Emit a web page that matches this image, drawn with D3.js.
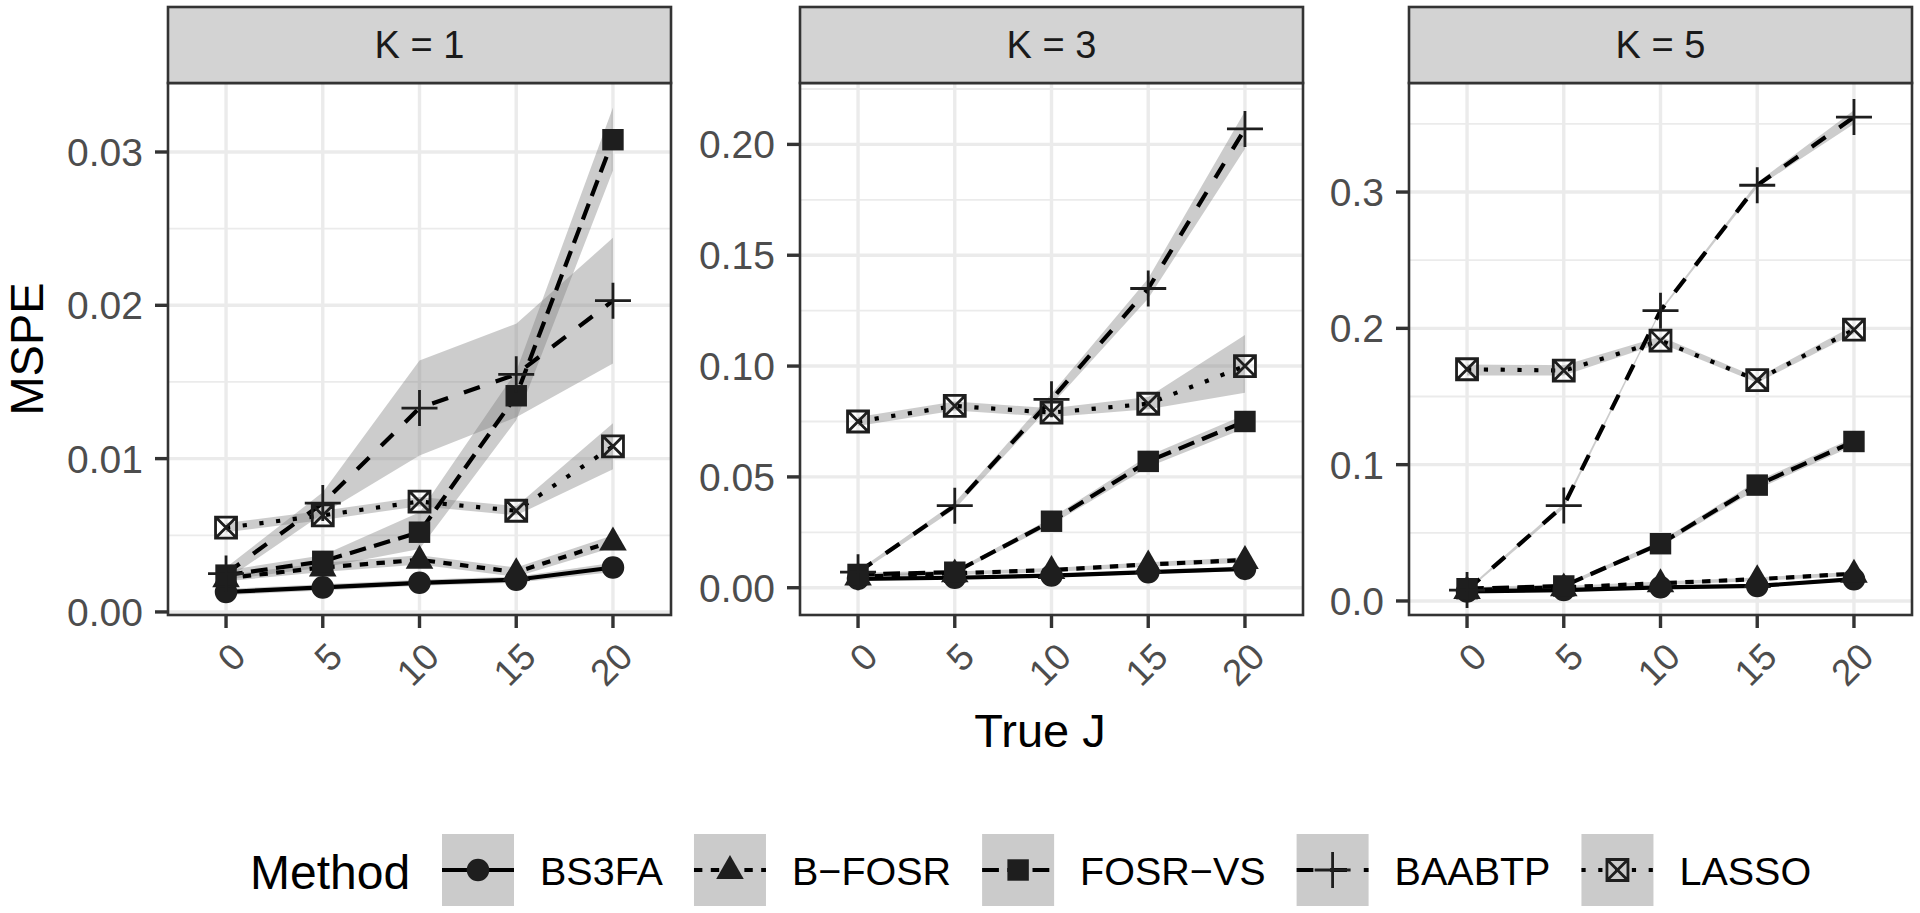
<!DOCTYPE html>
<html>
<head>
<meta charset="utf-8">
<script src="https://cdn.jsdelivr.net/npm/d3@7"></script>
<style>
  html, body { margin: 0; padding: 0; background: #fff; }
  svg { display: block; font-family: "Liberation Sans", Arial, sans-serif; }
</style>
</head>
<body>
<svg id="chart" width="1920" height="913"></svg>
<script>
// ---------------- DATA ----------------
const methods = ["BS3FA", "B-FOSR", "FOSR-VS", "BAABTP", "LASSO"];
const legendLabels = ["BS3FA", "B\u2212FOSR", "FOSR\u2212VS", "BAABTP", "LASSO"];
const trueJ = ["0", "5", "10", "15", "20"];
const panelTitles = ["K = 1", "K = 3", "K = 5"];

// rows follow `methods`, columns follow `trueJ`
const K1_mspe = [
  [0.0013, 0.0016, 0.0019, 0.0021, 0.0029],
  [0.0022, 0.0029, 0.0034, 0.0026, 0.0046],
  [0.0024, 0.0033, 0.0052, 0.0141, 0.0308],
  [0.0025, 0.0071, 0.0133, 0.0155, 0.0203],
  [0.0055, 0.0063, 0.0072, 0.0066, 0.0108]
];
const K1_lower = [
  [0.0011, 0.0014, 0.0017, 0.0019, 0.0026],
  [0.0020, 0.0026, 0.0031, 0.0023, 0.0042],
  [0.0021, 0.0029, 0.0041, 0.0125, 0.0288],
  [0.0021, 0.0064, 0.0102, 0.0127, 0.0162],
  [0.0052, 0.0060, 0.0069, 0.0063, 0.0093]
];
const K1_upper = [
  [0.0015, 0.0018, 0.0021, 0.0023, 0.0032],
  [0.0024, 0.0032, 0.0037, 0.0029, 0.0050],
  [0.0027, 0.0037, 0.0065, 0.0157, 0.0329],
  [0.0029, 0.0078, 0.0164, 0.0188, 0.0244],
  [0.0058, 0.0066, 0.0075, 0.0069, 0.0123]
];

const K3_mspe = [
  [0.0040, 0.0045, 0.0055, 0.0070, 0.0085],
  [0.0050, 0.0065, 0.0080, 0.0105, 0.0125],
  [0.0060, 0.0070, 0.0300, 0.0570, 0.0750],
  [0.0070, 0.0370, 0.0850, 0.1350, 0.2070],
  [0.0750, 0.0820, 0.0790, 0.0830, 0.1000]
];
const K3_lower = [
  [0.0033, 0.0038, 0.0047, 0.0062, 0.0076],
  [0.0043, 0.0057, 0.0071, 0.0095, 0.0113],
  [0.0052, 0.0062, 0.0285, 0.0545, 0.0720],
  [0.0062, 0.0355, 0.0825, 0.1305, 0.1980],
  [0.0730, 0.0800, 0.0770, 0.0805, 0.0880]
];
const K3_upper = [
  [0.0047, 0.0052, 0.0063, 0.0078, 0.0094],
  [0.0057, 0.0073, 0.0089, 0.0115, 0.0137],
  [0.0068, 0.0078, 0.0315, 0.0595, 0.0780],
  [0.0078, 0.0385, 0.0875, 0.1395, 0.2150],
  [0.0770, 0.0840, 0.0810, 0.0860, 0.1140]
];

const K5_mspe = [
  [0.0070, 0.0080, 0.0100, 0.0110, 0.0160],
  [0.0080, 0.0100, 0.0130, 0.0160, 0.0200],
  [0.0090, 0.0110, 0.0420, 0.0850, 0.1170],
  [0.0080, 0.0700, 0.2130, 0.3050, 0.3550],
  [0.1700, 0.1690, 0.1910, 0.1620, 0.1990]
];
const K5_lower = [
  [0.0062, 0.0072, 0.0090, 0.0100, 0.0148],
  [0.0072, 0.0090, 0.0118, 0.0147, 0.0185],
  [0.0080, 0.0098, 0.0400, 0.0820, 0.1140],
  [0.0072, 0.0680, 0.2120, 0.3035, 0.3500],
  [0.1655, 0.1655, 0.1890, 0.1600, 0.1960]
];
const K5_upper = [
  [0.0078, 0.0088, 0.0110, 0.0120, 0.0172],
  [0.0088, 0.0110, 0.0142, 0.0173, 0.0215],
  [0.0100, 0.0122, 0.0440, 0.0880, 0.1200],
  [0.0088, 0.0715, 0.2140, 0.3070, 0.3600],
  [0.1735, 0.1730, 0.1940, 0.1640, 0.2020]
];

const K1_yTicks = [0.00, 0.01, 0.02, 0.03];
const K3_yTicks = [0.00, 0.05, 0.10, 0.15, 0.20];
const K5_yTicks = [0.0, 0.1, 0.2, 0.3];
const K1_yDomain = [-0.0002, 0.0345];
const K3_yDomain = [-0.0123, 0.2277];
const K5_yDomain = [-0.0103, 0.3800];

// ---------------- STYLE / LAYOUT ----------------
const LW = 4.2;
const dashUnits = ["", "2,2", "4,2", "4,4", "1,3"]; // ggplot linetypes solid,22,42,44,13
const dashFor = i => dashUnits[i] ? dashUnits[i].split(",").map(v => +v * LW).join(",") : null;
const markerColor = "#1e1e1e";
const ribbonFill = "#808080";
const ribbonOpacity = 0.4;

const panelLefts = [168, 800, 1409];
const panelW = 503;
const panelTop = 83, panelBottom = 615;
const stripTop = 7;

const panels = [
  { title: panelTitles[0], mspe: K1_mspe, lo: K1_lower, hi: K1_upper, ticks: K1_yTicks, domain: K1_yDomain, fmt: d3.format(".2f") },
  { title: panelTitles[1], mspe: K3_mspe, lo: K3_lower, hi: K3_upper, ticks: K3_yTicks, domain: K3_yDomain, fmt: d3.format(".2f") },
  { title: panelTitles[2], mspe: K5_mspe, lo: K5_lower, hi: K5_upper, ticks: K5_yTicks, domain: K5_yDomain, fmt: d3.format(".1f") }
];

const svg = d3.select("#chart");

function drawMarker(g, shapeIdx, x, y) {
  if (shapeIdx === 0) {
    g.append("path").attr("d", d3.symbol(d3.symbolCircle, 400)()).attr("transform", `translate(${x},${y})`).attr("fill", markerColor);
  } else if (shapeIdx === 1) {
    g.append("path").attr("d", d3.symbol(d3.symbolTriangle, 330)()).attr("transform", `translate(${x},${y + 1})`).attr("fill", markerColor);
  } else if (shapeIdx === 2) {
    g.append("path").attr("d", d3.symbol(d3.symbolSquare, 460)()).attr("transform", `translate(${x},${y})`).attr("fill", markerColor);
  } else if (shapeIdx === 3) {
    const a = 18;
    g.append("path").attr("d", `M${x - a},${y}H${x + a}M${x},${y - a}V${y + a}`)
      .attr("stroke", markerColor).attr("stroke-width", 2.8).attr("fill", "none");
  } else {
    const h = 10.5;
    g.append("path")
      .attr("d", `M${x - h},${y - h}H${x + h}V${y + h}H${x - h}Z M${x - h},${y - h}L${x + h},${y + h} M${x + h},${y - h}L${x - h},${y + h}`)
      .attr("stroke", markerColor).attr("stroke-width", 2.8).attr("fill", "none");
  }
}

panels.forEach((p, pi) => {
  const left = panelLefts[pi];
  const x = d3.scalePoint().domain(trueJ).range([left, left + panelW]).padding(0.6);
  const y = d3.scaleLinear().domain(p.domain).range([panelBottom, panelTop]);
  const g = svg.append("g");

  // panel background
  g.append("rect").attr("x", left).attr("y", panelTop).attr("width", panelW).attr("height", panelBottom - panelTop).attr("fill", "#fff");

  // minor grid
  const step = p.ticks[1] - p.ticks[0];
  const minor = [];
  for (let i = -1; i < p.ticks.length; i++) {
    const v = p.ticks[0] + (i + 0.5) * step;
    if (v > p.domain[0] && v < p.domain[1]) minor.push(v);
  }
  g.selectAll(".minor").data(minor).enter().append("line")
    .attr("x1", left).attr("x2", left + panelW)
    .attr("y1", d => y(d)).attr("y2", d => y(d))
    .attr("stroke", "#ebebeb").attr("stroke-width", 1.8);
  // major grid
  g.selectAll(".majy").data(p.ticks).enter().append("line")
    .attr("x1", left).attr("x2", left + panelW)
    .attr("y1", d => y(d)).attr("y2", d => y(d))
    .attr("stroke", "#ebebeb").attr("stroke-width", 3.4);
  g.selectAll(".majx").data(trueJ).enter().append("line")
    .attr("x1", d => x(d)).attr("x2", d => x(d))
    .attr("y1", panelTop).attr("y2", panelBottom)
    .attr("stroke", "#ebebeb").attr("stroke-width", 3.4);

  // ribbons
  methods.forEach((m, mi) => {
    const area = d3.area().x((d, j) => x(trueJ[j])).y0((d, j) => y(p.lo[mi][j])).y1((d, j) => y(p.hi[mi][j]));
    g.append("path").attr("d", area(p.mspe[mi])).attr("fill", ribbonFill).attr("fill-opacity", ribbonOpacity);
  });
  // lines
  methods.forEach((m, mi) => {
    const line = d3.line().x((d, j) => x(trueJ[j])).y(d => y(d));
    const path = g.append("path").attr("d", line(p.mspe[mi])).attr("fill", "none")
      .attr("stroke", "#000").attr("stroke-width", LW);
    const da = dashFor(mi);
    if (da) path.attr("stroke-dasharray", da);
  });
  // points
  methods.forEach((m, mi) => {
    p.mspe[mi].forEach((v, j) => drawMarker(g, mi, x(trueJ[j]), y(v)));
  });

  // panel border
  g.append("rect").attr("x", left).attr("y", panelTop).attr("width", panelW).attr("height", panelBottom - panelTop)
    .attr("fill", "none").attr("stroke", "#333").attr("stroke-width", 2.6);

  // strip
  g.append("rect").attr("x", left).attr("y", stripTop).attr("width", panelW).attr("height", panelTop - stripTop)
    .attr("fill", "#d3d3d3").attr("stroke", "#333").attr("stroke-width", 2.6);
  g.append("text").attr("x", left + panelW / 2).attr("y", (stripTop + panelTop) / 2 + 13)
    .attr("text-anchor", "middle").attr("font-size", 38).attr("fill", "#1a1a1a").text(p.title);

  // y axis ticks & labels
  p.ticks.forEach(t => {
    g.append("line").attr("x1", left - 13).attr("x2", left).attr("y1", y(t)).attr("y2", y(t))
      .attr("stroke", "#333").attr("stroke-width", 3.4);
    g.append("text").attr("x", left - 25).attr("y", y(t) + 14).attr("text-anchor", "end")
      .attr("font-size", 39).attr("fill", "#4d4d4d").text(p.fmt(t));
  });
  // x axis ticks & labels
  trueJ.forEach(t => {
    g.append("line").attr("x1", x(t)).attr("x2", x(t)).attr("y1", panelBottom).attr("y2", panelBottom + 13)
      .attr("stroke", "#333").attr("stroke-width", 3.4);
    g.append("text").attr("transform", `translate(${x(t) + 3},${640}) rotate(-45)`)
      .attr("text-anchor", "end").attr("dy", "0.72em")
      .attr("font-size", 37).attr("fill", "#4d4d4d").text(t);
  });
});

// axis titles
svg.append("text").attr("transform", "translate(43,349) rotate(-90)").attr("text-anchor", "middle")
  .attr("font-size", 47).attr("fill", "#000").text("MSPE");
svg.append("text").attr("x", (panelLefts[0] + panelLefts[2] + panelW) / 2).attr("y", 747).attr("text-anchor", "middle")
  .attr("font-size", 47).attr("fill", "#000").text("True J");

// legend
const lg = svg.append("g");
const keyY = 834, keySize = 72;
lg.append("text").attr("x", 250).attr("y", 889).attr("font-size", 48).attr("fill", "#000").text("Method");
let kx = 442;
methods.forEach((m, mi) => {
  lg.append("rect").attr("x", kx).attr("y", keyY).attr("width", keySize).attr("height", keySize)
    .attr("fill", "#cbcbcb");
  const cy = keyY + keySize / 2;
  const ln = lg.append("line").attr("x1", kx).attr("x2", kx + keySize).attr("y1", cy).attr("y2", cy)
    .attr("stroke", "#000").attr("stroke-width", LW);
  const da = dashFor(mi);
  if (da) ln.attr("stroke-dasharray", da);
  drawMarker(lg, mi, kx + keySize / 2, cy);
  const t = lg.append("text").attr("x", kx + keySize + 26).attr("y", 885).attr("font-size", 39.5)
    .attr("fill", "#000").text(legendLabels[mi]);
  kx = kx + keySize + 26 + t.node().getComputedTextLength() + 31;
});
</script>
</body>
</html>
